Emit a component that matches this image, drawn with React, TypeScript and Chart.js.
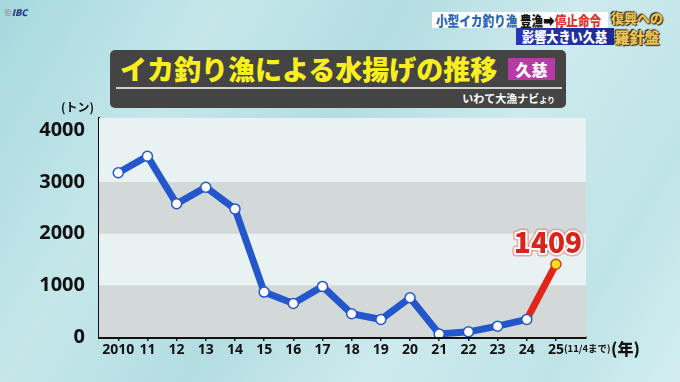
import React, { useEffect, useRef } from "react";
import { Chart, registerables } from "chart.js";

Chart.register(...registerables);

const years = ["2010", "11", "12", "13", "14", "15", "16", "17", "18", "19", "20", "21", "22", "23", "24", "25"];
const catch_t = [3180, 3500, 2580, 2900, 2480, 870, 650, 980, 450, 340, 760, 60, 100, 210, 340, 1409];
const yTicks = [0, 1000, 2000, 3000, 4000];
const highlightLabel = "1409";

const BLUE = "#2457cc";
const RED = "#e3261b";
const JP = "'Noto Sans CJK JP', 'Noto Sans', sans-serif";

export default function App() {
  const ref = useRef<HTMLCanvasElement | null>(null);

  useEffect(() => {
    document.body.style.margin = "0";
    const canvas = ref.current!;
    const last = catch_t.length - 1;

    const bands = {
      id: "bands",
      beforeDatasetsDraw(chart: any) {
        const { ctx, chartArea: a, scales } = chart;
        const y = scales.y;
        ctx.save();
        ctx.fillStyle = "#e9f2f2";
        ctx.fillRect(a.left, a.top, a.right - a.left, a.bottom - a.top);
        ctx.fillStyle = "#d3d9d9";
        for (let i = 0; i < yTicks.length - 1; i += 2) {
          const t = y.getPixelForValue(yTicks[i + 1]);
          const b = y.getPixelForValue(yTicks[i]);
          ctx.fillRect(a.left, t, a.right - a.left, b - t);
        }
        ctx.restore();
      },
    };

    const valueLabel = {
      id: "valueLabel",
      afterDatasetsDraw(chart: any) {
        const { ctx } = chart;
        const pt = chart.getDatasetMeta(0).data[last];
        ctx.save();
        ctx.font = `900 28px ${JP}`;
        ctx.textAlign = "center";
        ctx.textBaseline = "middle";
        const x = pt.x - 8;
        const yy = pt.y - 22;
        ctx.lineJoin = "round";
        ctx.strokeStyle = "rgba(230,120,120,0.6)";
        ctx.lineWidth = 7;
        ctx.strokeText(highlightLabel, x, yy);
        ctx.strokeStyle = "#ffffff";
        ctx.lineWidth = 4;
        ctx.strokeText(highlightLabel, x, yy);
        ctx.fillStyle = "#d9241b";
        ctx.fillText(highlightLabel, x, yy);
        ctx.restore();
      },
    };

    const chart = new Chart(canvas, {
      type: "line",
      data: {
        labels: years,
        datasets: [
          {
            data: catch_t.map((v, i) => ({ x: i, y: v })),
            borderWidth: 7,
            borderColor: BLUE,
            segment: {
              borderColor: (c: any) => (c.p1DataIndex === last ? RED : BLUE),
            },
            pointRadius: 5,
            pointBorderWidth: 1.5,
            pointBackgroundColor: catch_t.map((_, i) => (i === last ? "#f7e11f" : "#ffffff")),
            pointBorderColor: catch_t.map((_, i) => (i === last ? "#d8421a" : BLUE)),
            tension: 0,
          },
        ],
      },
      options: {
        animation: false,
        responsive: false,
        maintainAspectRatio: false,
        layout: { padding: { left: 0, top: 118, right: 94, bottom: 0 } },
        plugins: { legend: { display: false }, tooltip: { enabled: false } },
        scales: {
          x: {
            type: "linear",
            min: -0.66,
            max: 16.03,
            afterBuildTicks: (s: any) => {
              s.ticks = years.map((_, i) => ({ value: i }));
            },
            afterFit: (s: any) => {
              s.height = 45;
            },
            ticks: {
              autoSkip: false,
              maxRotation: 0,
              padding: 1,
              color: "#111",
              font: { family: "'Noto Sans', sans-serif", weight: "bold", size: 14 },
              callback: (v: any) => years[v] ?? "",
            },
            grid: { display: true, drawOnChartArea: false, tickLength: 4, color: "#222", lineWidth: 1.5 },
            border: { display: true, color: "#111", width: 3 },
          },
          y: {
            min: 0,
            max: 4240,
            afterBuildTicks: (s: any) => {
              s.ticks = yTicks.map((v) => ({ value: v }));
            },
            afterFit: (s: any) => {
              s.width = 99;
            },
            ticks: {
              padding: 6,
              color: "#111",
              font: { family: "'Noto Sans', sans-serif", weight: "bold", size: 20 },
              callback: (v: any) => String(v),
            },
            grid: { display: false },
            border: { display: true, color: "#111", width: 2 },
          },
        },
      },
      plugins: [bands, valueLabel],
    } as any);

    return () => chart.destroy();
  }, []);

  const abs = (o: any): React.CSSProperties => ({ position: "absolute", ...o });

  return (
    <div
      style={{
        position: "fixed",
        left: 0,
        top: 0,
        width: 680,
        height: 382,
        overflow: "hidden",
        fontFamily: JP,
        background:
          "linear-gradient(120deg, #a6d8de 0%, #c5e7ea 25%, #b3dde2 45%, #cdeaed 65%, #bfe4e8 85%, #d3eef0 100%)",
      }}
    >
      <div style={abs({ left: 4, top: 6, fontSize: 9, fontWeight: 900, color: "#1d3a7a", fontStyle: "italic" })}>
        <span style={{ color: "#8a9aa8", fontStyle: "normal" }}>©</span>IBC
      </div>

      <div style={abs({ left: 432, top: 12, width: 176, height: 16, background: "#ffffff" })} />
      <div
        style={abs({
          left: 436,
          top: 11,
          fontSize: 13.5,
          fontWeight: 900,
          lineHeight: "18px",
          whiteSpace: "nowrap",
          transform: "scaleX(0.86)",
          transformOrigin: "left center",
        })}
      >
        <span style={{ color: "#2a68b5" }}>小型イカ釣り漁</span>
        <span style={{ color: "#111" }}> 豊漁</span>
        <span style={{ color: "#111" }}>➡</span>
        <span style={{ color: "#e0322a" }}>停止命令</span>
      </div>
      <div style={abs({ left: 516, top: 28, width: 98, height: 17, background: "linear-gradient(90deg, #2738b0, #1c2a90)" })} />
      <div
        style={abs({
          left: 522,
          top: 28,
          fontSize: 13.5,
          fontWeight: 900,
          lineHeight: "17px",
          color: "#fff",
          whiteSpace: "nowrap",
          transform: "scaleX(0.9)",
          transformOrigin: "left center",
        })}
      >
        影響大きい久慈
      </div>
      <div
        style={abs({
          left: 611,
          top: 8,
          fontSize: 13,
          fontWeight: 900,
          lineHeight: "19px",
          color: "#e9c45a",
          textShadow: "0 0 2px #3a2200, 1px 1px 1px #3a2200, -1px -1px 1px #3a2200",
          textAlign: "center",
          whiteSpace: "nowrap",
        })}
      >
        <div>復興への</div>
        <div style={{ fontSize: 15 }}>羅針盤</div>
      </div>

      <div style={abs({ left: 110, top: 50, width: 456, height: 58, background: "#444444", borderRadius: 5 })} />
      <div style={abs({ left: 120, top: 51, fontSize: 27, fontWeight: 900, lineHeight: "36px", color: "#f9ee1e", whiteSpace: "nowrap" })}>
        イカ釣り漁による水揚げの推移
      </div>
      <div
        style={abs({
          left: 508,
          top: 58,
          width: 47,
          height: 22,
          background: "#b93aa6",
          color: "#fff",
          fontSize: 16,
          fontWeight: 900,
          lineHeight: "22px",
          textAlign: "center",
        })}
      >
        久慈
      </div>
      <div style={abs({ left: 116, top: 87, width: 446, height: 1.5, background: "#d0d0d0" })} />
      <div style={abs({ right: 125, top: 90, fontSize: 11, fontWeight: 700, lineHeight: "16px", color: "#fff", whiteSpace: "nowrap" })}>
        いわて大漁ナビ<span style={{ fontSize: 8 }}>より</span>
      </div>

      <canvas ref={ref} width={680} height={382} style={abs({ left: 0, top: 0, width: 680, height: 382 })} />

      <div style={abs({ left: 61, top: 99, fontSize: 12, fontWeight: 700, lineHeight: "16px", color: "#111", whiteSpace: "nowrap" })}>
        (トン)
      </div>
      <div style={abs({ left: 564, top: 341, fontSize: 9.5, fontWeight: 700, lineHeight: "14px", color: "#111", whiteSpace: "nowrap" })}>
        (11/4まで)
      </div>
      <div style={abs({ left: 611, top: 338, fontSize: 16, fontWeight: 900, lineHeight: "20px", color: "#111", whiteSpace: "nowrap" })}>
        (年)
      </div>
    </div>
  );
}
